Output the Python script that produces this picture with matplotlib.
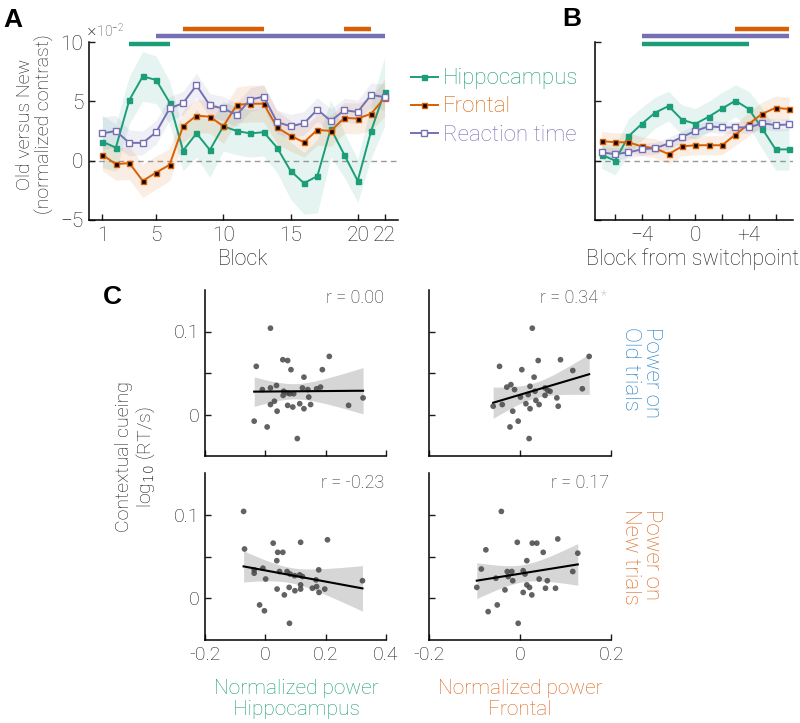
import numpy as np
import matplotlib
matplotlib.use("Agg")
import matplotlib.pyplot as plt
from matplotlib.lines import Line2D

plt.rcParams['font.family'] = ['Roboto', 'DejaVu Sans']
plt.rcParams['font.weight'] = 'light'
plt.rcParams['axes.linewidth'] = 1.1
plt.rcParams['text.color'] = '#1a1a1a'
plt.rcParams['xtick.color'] = '#1a1a1a'
plt.rcParams['ytick.color'] = '#1a1a1a'

GREEN = "#1b9e77"
ORANGE = "#d95f02"
PURPLE = "#7570b3"
BLUE = "#1f7cc4"
ORANGE_TXT = "#db6418"

# --- Panel A: per block (units of 1e-2) ---
blocks = np.arange(1, 23)
hipp_A = [1.6, 1.1, 5.1, 7.1, 6.8, 4.9, 0.85, 2.3, 0.9, 2.9, 2.5, 2.3, 2.4, 1.1, -0.85, -1.9, -1.3, 2.7, 0.5, -1.7, 2.5, 5.8]
front_A = [0.5, -0.3, -0.2, -1.7, -1.0, -0.35, 2.9, 3.8, 3.7, 2.9, 4.7, 4.8, 4.8, 2.8, 2.1, 1.55, 2.6, 2.5, 3.6, 3.55, 3.95, 5.3]
rt_A = [2.3, 2.5, 1.5, 1.5, 2.4, 4.4, 4.85, 6.35, 4.65, 4.4, 3.85, 5.15, 5.4, 3.25, 2.9, 3.15, 4.3, 3.35, 4.25, 4.1, 5.55, 5.35]
hipp_err_A = [2.2, 2.0, 2.0, 2.1, 2.0, 1.8, 1.7, 2.0, 2.3, 2.1, 2.0, 2.0, 2.0, 2.1, 2.4, 2.6, 3.1, 2.4, 1.9, 1.8, 2.3, 2.9]
front_err_A = [1.35, 1.35, 1.4, 1.4, 1.4, 1.35, 1.35, 1.4, 1.4, 1.45, 1.5, 1.55, 1.55, 1.4, 1.3, 1.25, 1.3, 1.3, 1.3, 1.3, 1.4, 1.6]
rt_err_A = [1.4, 1.3, 1.1, 1.0, 1.0, 1.0, 1.0, 1.0, 1.0, 1.0, 1.0, 1.0, 1.0, 1.0, 1.0, 1.0, 1.0, 1.0, 1.0, 1.0, 1.0, 1.1]
# significant stretches (start block, end block)
sig_hipp_A = [(3, 6)]
sig_rt_A = [(5, 22)]
sig_front_A = [(7, 13), (19, 21)]

# --- Panel B: block from switchpoint ---
shift = np.arange(-7, 8)
hipp_B = [0.5, 0.0, 2.05, 3.1, 4.05, 4.6, 3.45, 3.1, 3.7, 4.4, 5.05, 4.35, 2.7, 0.95, 0.95]
front_B = [1.65, 1.55, 1.55, 1.2, 1.05, 0.55, 1.2, 1.3, 1.3, 1.3, 2.2, 3.1, 3.95, 4.45, 4.35]
rt_B = [0.7, 0.55, 0.7, 0.95, 1.05, 1.45, 2.0, 2.5, 2.9, 2.8, 2.8, 2.8, 3.15, 3.0, 3.05]
hipp_err_B = [1.15, 1.2, 1.5, 1.4, 1.3, 1.25, 1.25, 1.3, 1.3, 1.35, 1.35, 1.5, 1.7, 1.75, 1.75]
front_err_B = [0.8, 0.8, 0.8, 0.8, 0.8, 0.8, 0.8, 0.8, 0.8, 0.8, 0.9, 1.0, 1.0, 1.0, 1.0]
rt_err_B = [0.5, 0.5, 0.5, 0.5, 0.5, 0.5, 0.5, 0.5, 0.5, 0.5, 0.5, 0.5, 0.5, 0.5, 0.5]
sig_hipp_B = [(-4, 4)]
sig_rt_B = [(-4, 7)]
sig_front_B = [(3, 7)]

# --- Panel C: scatter (normalized power vs contextual cueing) ---
ul_x = [0.017, -0.03, 0.058, 0.074, 0.085, 0.212, 0.189, 0.128, -0.01, 0.017, 0.037, 0.061, 0.074, 0.094, 0.059, 0.123, 0.141,
        0.17, 0.183, 0.144, 0.03, 0.017, 0.074, 0.091, 0.114, 0.128, 0.15, 0.039, 0.276, 0.324, -0.037, 0.006, 0.106, 0.081]
ul_y = [0.104, 0.058, 0.066, 0.065, 0.054, 0.07, 0.054, 0.045, 0.03, 0.032, 0.035, 0.028, 0.026, 0.025, 0.023, 0.032, 0.03,
        0.031, 0.033, 0.021, 0.016, 0.012, 0.011, 0.009, 0.013, 0.007, 0.012, 0.004, 0.011, 0.02, -0.008, -0.015, -0.029, 0.025]
ur_x = [0.027, -0.045, 0.04, 0.089, 0.004, 0.152, 0.116, 0.031, -0.029, -0.02, -0.012, 0.022, 0.033, 0.055, 0.066, 0.055,
        0.001, 0.018, 0.081, 0.013, 0.035, 0.042, 0.022, -0.059, -0.039, 0.084, 0.137, -0.016, -0.004, -0.022, 0.02, 0.061]
ur_y = [0.104, 0.058, 0.065, 0.066, 0.054, 0.07, 0.053, 0.045, 0.033, 0.036, 0.03, 0.034, 0.028, 0.032, 0.028, 0.023,
        0.021, 0.024, 0.02, 0.013, 0.017, 0.012, 0.007, 0.01, 0.012, 0.01, 0.031, 0.004, -0.008, -0.015, -0.029, 0.029]
ll_x = [-0.072, -0.069, 0.026, 0.041, 0.058, 0.038, 0.117, 0.206, -0.037, -0.037, -0.008, 0.047, 0.072, 0.082, 0.097, 0.114, 0.123,
        0.177, 0.168, 0.001, 0.039, 0.079, 0.098, 0.117, 0.117, 0.156, 0.17, 0.197, 0.178, 0.063, 0.322, -0.019, -0.003, 0.08]
ll_y = [0.104, 0.059, 0.066, 0.055, 0.055, 0.045, 0.067, 0.07, 0.034, 0.03, 0.036, 0.032, 0.032, 0.029, 0.027, 0.028, 0.026,
        0.034, 0.022, 0.023, 0.011, 0.013, 0.009, 0.016, 0.011, 0.012, 0.014, 0.011, 0.007, 0.004, 0.021, -0.008, -0.015, -0.03]
lr_x = [-0.041, -0.075, -0.006, 0.027, 0.037, 0.083, 0.051, 0.127, 0.015, 0.116, -0.053, -0.028, -0.018, -0.026, -0.016, 0.007,
        0.011, 0.042, 0.06, 0.015, 0.021, 0.056, 0.078, -0.033, 0.007, 0.026, -0.05, -0.07, -0.004, -0.095, -0.085]
lr_y = [0.104, 0.058, 0.067, 0.066, 0.066, 0.071, 0.055, 0.054, 0.045, 0.032, 0.024, 0.032, 0.032, 0.026, 0.021, 0.033,
        0.029, 0.023, 0.021, 0.016, 0.013, 0.012, 0.012, 0.01, 0.007, 0.004, -0.008, -0.016, -0.03, 0.013, 0.035]
r_texts = ["r = 0.00", "r = 0.34", "r = -0.23", "r = 0.17"]


def clean(ax):
    ax.spines['top'].set_visible(False)
    ax.spines['right'].set_visible(False)
    ax.tick_params(direction='in', length=4, width=1.0, pad=4)


def draw_line(ax, x, y, err, color, mfc, ms):
    y = np.array(y)
    err = np.array(err)
    ax.fill_between(x, y - err, y + err, color=color, alpha=0.11, lw=0)
    ax.plot(x, y, color=color, lw=1.4, marker='s', ms=ms, mfc=mfc, mec=color, mew=1.0, zorder=3)


def sig_bars(ax, spans, level, color):
    for a, b in spans:
        ax.hlines(level, a, b, color=color, lw=3.2, clip_on=False)


fig = plt.figure(figsize=(8, 7.23), dpi=100)

# ---------- A ----------
axA = fig.add_axes([89 / 800, 1 - 220 / 723, 309 / 800, 178 / 723])
clean(axA)
axA.axhline(0, color='#9a9a9a', lw=1.0, ls=(0, (4, 3)), zorder=1)
draw_line(axA, blocks, hipp_A, hipp_err_A, GREEN, GREEN, 3.6)
draw_line(axA, blocks, front_A, front_err_A, ORANGE, 'black', 3.6)
draw_line(axA, blocks, rt_A, rt_err_A, PURPLE, 'white', 4.6)
axA.set_xlim(0, 23)
axA.set_ylim(-5, 10)
axA.set_xticks([1, 5, 10, 15, 20, 22])
axA.set_yticks([-5, 0, 5, 10])
axA.tick_params(labelsize=15)
sig_bars(axA, sig_hipp_A, 9.85, GREEN)
sig_bars(axA, sig_rt_A, 10.5, PURPLE)
sig_bars(axA, sig_front_A, 11.1, ORANGE)
fig.text(85 / 800, 1 - 31 / 723, r'$\times\mathregular{10^{-2}}$', fontsize=10, color='#333333', va='center')
fig.text(35 / 800, 1 - 124 / 723, "Old versus New\n(normalized contrast)", rotation=90,
         ha='center', va='center', fontsize=14, linespacing=1.05)
fig.text(243 / 800, 1 - 259 / 723, "Block", ha='center', va='center', fontsize=15.5)

# ---------- B ----------
axB = fig.add_axes([595 / 800, 1 - 220 / 723, 198 / 800, 178 / 723])
clean(axB)
axB.axhline(0, color='#9a9a9a', lw=1.0, ls=(0, (4, 3)), zorder=1)
draw_line(axB, shift, hipp_B, hipp_err_B, GREEN, GREEN, 3.6)
draw_line(axB, shift, front_B, front_err_B, ORANGE, 'black', 3.6)
draw_line(axB, shift, rt_B, rt_err_B, PURPLE, 'white', 4.6)
axB.set_xlim(-7.5, 7.3)
axB.set_ylim(-5, 10)
axB.set_xticks([-6, -4, -2, 0, 2, 4, 6])
axB.set_xticklabels(['', '\u2212' + '4', '', '0', '', '+4', ''])
axB.set_yticks([-5, 0, 5, 10])
axB.set_yticklabels([])
axB.tick_params(labelsize=15)
sig_bars(axB, sig_hipp_B, 9.85, GREEN)
sig_bars(axB, sig_rt_B, 10.5, PURPLE)
sig_bars(axB, sig_front_B, 11.1, ORANGE)
fig.text(693 / 800, 1 - 259 / 723, "Block from switchpoint", ha='center', va='center', fontsize=15.5)

# legend
handles = [
    Line2D([], [], color=GREEN, lw=1.4, marker='s', ms=3.6, mfc=GREEN, mec=GREEN),
    Line2D([], [], color=ORANGE, lw=1.4, marker='s', ms=3.6, mfc='black', mec=ORANGE),
    Line2D([], [], color=PURPLE, lw=1.4, marker='s', ms=4.0, mfc='white', mec=PURPLE),
]
fig.legend(handles, ["Hippocampus", "Frontal", "Reaction time"], loc='center left',
           bbox_to_anchor=(411 / 800, 1 - 107 / 723), frameon=False, fontsize=16,
           borderpad=0, borderaxespad=0, handlelength=1.2, handletextpad=0.25,
           labelspacing=0.32, labelcolor='linecolor')

# panel letters
for lab, x, y in [("A", 13, 20), ("B", 572, 19), ("C", 112, 297)]:
    fig.text(x / 800, 1 - y / 723, lab, fontsize=19, fontweight='bold', ha='center', va='center',
             family=['Liberation Sans', 'DejaVu Sans'], color='black')

# ---------- C ----------
c_pos = {
    'ul': [205 / 800, 1 - 456 / 723, 181 / 800, 166 / 723],
    'ur': [429 / 800, 1 - 456 / 723, 182 / 800, 166 / 723],
    'll': [205 / 800, 1 - 640 / 723, 181 / 800, 167 / 723],
    'lr': [429 / 800, 1 - 640 / 723, 182 / 800, 167 / 723],
}
c_data = {'ul': (ul_x, ul_y), 'ur': (ur_x, ur_y), 'll': (ll_x, ll_y), 'lr': (lr_x, lr_y)}

for i, key in enumerate(['ul', 'ur', 'll', 'lr']):
    ax = fig.add_axes(c_pos[key])
    clean(ax)
    x = np.array(c_data[key][0])
    y = np.array(c_data[key][1])
    # linear fit with 95% confidence band
    slope, icpt = np.polyfit(x, y, 1)
    n = len(x)
    resid = y - (slope * x + icpt)
    s = np.sqrt(np.sum(resid ** 2) / (n - 2))
    xs = np.linspace(x.min(), x.max(), 100)
    se = s * np.sqrt(1 / n + (xs - x.mean()) ** 2 / np.sum((x - x.mean()) ** 2))
    fit = slope * xs + icpt
    ax.fill_between(xs, fit - 2.03 * se, fit + 2.03 * se, color='#d6d6d6', lw=0, zorder=1)
    ax.plot(xs, fit, color='black', lw=1.5, zorder=3)
    ax.scatter(x, y, s=17, color='#474747', alpha=0.85, edgecolors='none', zorder=2)

    ax.set_ylim(-0.05, 0.15)
    ax.set_yticks([0, 0.05, 0.1])
    if key in ('ul', 'll'):
        ax.set_xlim(-0.2, 0.4)
        ax.set_xticks([-0.2, 0, 0.2, 0.4])
        xl = ['-0.2', '0', '0.2', '0.4']
        ax.set_yticklabels(['0', '', '0.1'])
    else:
        ax.set_xlim(-0.2, 0.2)
        ax.set_xticks([-0.2, 0, 0.2])
        xl = ['-0.2', '0', '0.2']
        ax.set_yticklabels([])
    if key in ('ll', 'lr'):
        ax.set_xticklabels(xl)
    else:
        ax.set_xticklabels([])
    ax.tick_params(labelsize=14)

    ty = 0.95 if key in ('ul', 'ur') else 0.94
    if key == 'ur':
        ax.text(0.93, ty, r_texts[i], transform=ax.transAxes, ha='right', va='center', fontsize=13, color='#333333')
        ax.text(0.945, ty + 0.01, '*', transform=ax.transAxes, ha='left', va='center', fontsize=10, color='#aaaaaa')
    else:
        ax.text(0.99, ty, r_texts[i], transform=ax.transAxes, ha='right', va='center', fontsize=13, color='#333333')

fig.text(136 / 800, 1 - 457 / 723, "Contextual cueing\nlog$_{10}$ (RT/s)", rotation=90,
         ha='center', va='center', fontsize=14, linespacing=1.1)
fig.text(641 / 800, 1 - 373 / 723, "Power on\nOld trials", rotation=-90, ha='center', va='center',
         multialignment='left', fontsize=16, color=BLUE, linespacing=1.0)
fig.text(641 / 800, 1 - 557 / 723, "Power on\nNew trials", rotation=-90, ha='center', va='center',
         multialignment='left', fontsize=16, color=ORANGE_TXT, linespacing=1.0)
fig.text(296 / 800, 1 - 699 / 723, "Normalized power\nHippocampus", ha='center', va='center',
         fontsize=15, color=GREEN, linespacing=1.1)
fig.text(520 / 800, 1 - 699 / 723, "Normalized power\nFrontal", ha='center', va='center',
         fontsize=15, color=ORANGE_TXT, linespacing=1.1)

fig.savefig("out.png", dpi=100)
